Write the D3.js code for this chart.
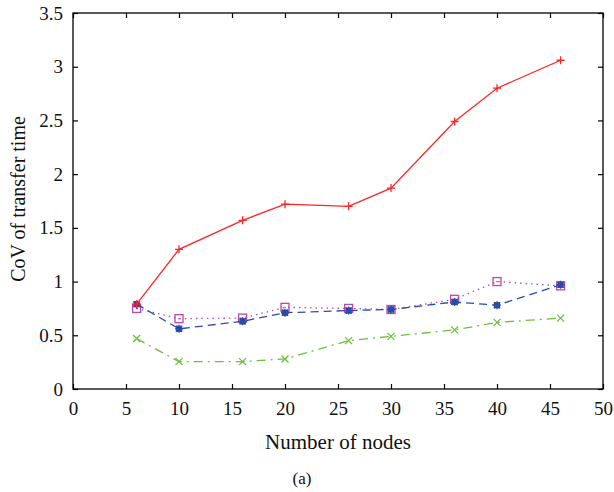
<!DOCTYPE html>
<html><head><meta charset="utf-8">
<script src="https://cdn.jsdelivr.net/npm/d3@7"></script>
<style>body{margin:0;background:#fff}svg text{font-family:"Liberation Serif","DejaVu Serif",serif !important;fill:#111}</style>
</head><body><svg id="c" width="614" height="492"></svg>
<script>
const nodes = [6, 10, 16, 20, 26, 30, 36, 40, 46];
const redVals = [0.79, 1.30, 1.57, 1.72, 1.70, 1.87, 2.49, 2.80, 3.06];
const blueVals = [0.79, 0.56, 0.63, 0.71, 0.73, 0.74, 0.81, 0.78, 0.97];
const magentaVals = [0.75, 0.655, 0.66, 0.76, 0.75, 0.74, 0.835, 1.00, 0.96];
const greenVals = [0.47, 0.255, 0.255, 0.28, 0.45, 0.49, 0.55, 0.62, 0.66];
const xTicks = [0,5,10,15,20,25,30,35,40,45,50];
const yTicks = [0,0.5,1,1.5,2,2.5,3,3.5];

const svg = d3.select("#c");
const L=73, R=603, T=13, B=389;
const x = d3.scaleLinear().domain([0,50]).range([L,R]);
const y = d3.scaleLinear().domain([0,3.5]).range([B,T]);

svg.append("rect").attr("x",L).attr("y",T).attr("width",R-L).attr("height",B-T)
  .attr("fill","none").attr("stroke","#000").attr("stroke-width",1.3);

const tl = 5;
const gx = svg.append("g").attr("transform",`translate(0,${B})`)
  .call(d3.axisBottom(x).tickValues(xTicks).tickSize(-tl).tickFormat(d3.format("d")).tickPadding(13));
const gxt = svg.append("g").attr("transform",`translate(0,${T})`)
  .call(d3.axisTop(x).tickValues(xTicks).tickSize(-tl).tickFormat(""));
const gy = svg.append("g").attr("transform",`translate(${L},0)`)
  .call(d3.axisLeft(y).tickValues(yTicks).tickSize(-tl).tickFormat(d=>d).tickPadding(10));
const gyr = svg.append("g").attr("transform",`translate(${R},0)`)
  .call(d3.axisRight(y).tickValues(yTicks).tickSize(-tl).tickFormat(""));
[gx,gxt,gy,gyr].forEach(g=>{
  g.attr("font-family",null).attr("font-size",null);
  g.select(".domain").remove();
  g.selectAll(".tick line").attr("stroke","#000").attr("stroke-width",1.2);
  g.selectAll("text").style("font-size","19px").attr("fill","#111");
});

svg.append("text").attr("x",(L+R)/2 - 0).attr("y",449).attr("text-anchor","middle").style("font-size","21px").text("Number of nodes");
svg.append("text").attr("transform",`translate(25,199) rotate(-90)`).attr("text-anchor","middle").style("font-size","20px").text("CoV of transfer time");
svg.append("text").attr("x",302).attr("y",484).attr("text-anchor","middle").style("font-size","17px").text("(a)");

const line = d3.line().x(d=>x(d[0])).y(d=>y(d[1]));
function series(vals,color,dash,marker){
  const data = nodes.map((n,i)=>[n,vals[i]]);
  svg.append("path").datum(data).attr("d",line).attr("fill","none")
    .attr("stroke",color).attr("stroke-width",1.3).attr("stroke-dasharray",dash);
  const g = svg.append("g");
  data.forEach(d=>{
    const cx=x(d[0]), cy=y(d[1]);
    const m = g.append("g").attr("transform",`translate(${cx},${cy})`).attr("stroke",color).attr("fill","none").attr("stroke-width",1.3);
    if(marker==="plus"){
      m.append("path").attr("d","M-4,0H4M0,-4V4");
    } else if(marker==="cross"){
      m.append("path").attr("d","M-3.5,-3.5L3.5,3.5M-3.5,3.5L3.5,-3.5");
    } else if(marker==="star"){
      m.append("path").attr("d","M-4,0H4M0,-4V4M-3,-3L3,3M-3,3L3,-3");
      m.append("rect").attr("x",-2.5).attr("y",-2.5).attr("width",5).attr("height",5).attr("fill",color);
    } else if(marker==="square"){
      m.append("rect").attr("x",-4).attr("y",-4).attr("width",8).attr("height",8);
      m.append("rect").attr("x",-0.7).attr("y",-0.7).attr("width",1.4).attr("height",1.4).attr("fill",color).attr("stroke","none");
    }
  });
}
series(greenVals,"#6cbf3c","9,5,2,5","cross");
series(magentaVals,"#b948a8","1.5,4","square");
series(blueVals,"#2a4ca8","8,5","star");
series(redVals,"#ff2424",null,"plus");
</script></body></html>
